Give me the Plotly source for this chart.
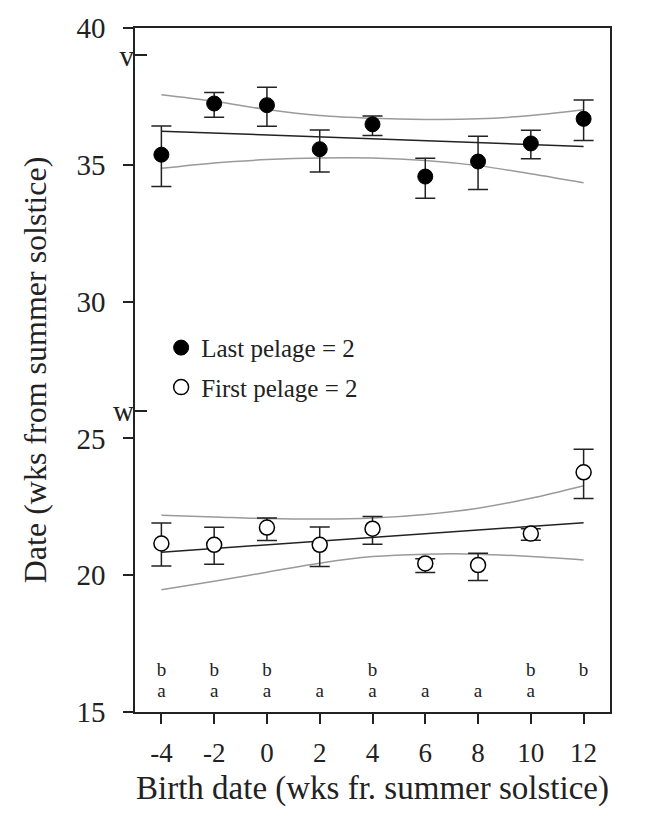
import plotly.graph_objects as go

# ---- data ----
birth_wk = [-4, -2, 0, 2, 4, 6, 8, 10, 12]

last_mean = [35.37, 37.24, 37.18, 35.57, 36.48, 34.57, 35.12, 35.78, 36.68]
last_hi   = [36.42, 37.64, 37.83, 36.27, 36.78, 35.24, 36.04, 36.26, 37.37]
last_lo   = [34.21, 36.74, 36.41, 34.74, 36.07, 33.78, 34.10, 35.22, 35.89]

first_mean = [21.16, 21.11, 21.74, 21.11, 21.70, 20.43, 20.37, 21.52, 23.76]
first_hi   = [21.91, 21.75, 22.09, 21.76, 22.15, 20.60, 20.80, 21.70, 24.60]
first_lo   = [20.34, 20.40, 21.27, 20.32, 21.13, 20.10, 19.81, 21.28, 22.80]

fit_x = [-4, 12]
last_fit = [36.23, 35.67]
first_fit = [20.84, 21.92]

last_ci_up = [37.56, 37.32, 37.02, 36.80, 36.70, 36.66, 36.68, 36.80, 37.01]
last_ci_dn = [34.87, 35.07, 35.19, 35.25, 35.25, 35.16, 34.97, 34.67, 34.34]
first_ci_up = [22.19, 22.13, 22.07, 22.05, 22.09, 22.22, 22.45, 22.81, 23.27]
first_ci_dn = [19.47, 19.78, 20.11, 20.44, 20.68, 20.77, 20.77, 20.68, 20.56]

letters_b = ['b', 'b', 'b', '', 'b', '', '', 'b', 'b']
letters_a = ['a', 'a', 'a', 'a', 'a', 'a', 'a', 'a', '']

y_ticks = [15, 20, 25, 30, 35, 40]
x_ticks = [-4, -2, 0, 2, 4, 6, 8, 10, 12]
mark_vals = [39, 26]
mark_text = ['v', 'w']

FONT = "Liberation Serif"
INK = "#222222"
BAND = "#9a9a9a"

fig = go.Figure()

for up, dn in [(last_ci_up, last_ci_dn), (first_ci_up, first_ci_dn)]:
    for band in (up, dn):
        fig.add_trace(go.Scatter(x=birth_wk, y=band, mode="lines",
                                 line=dict(color=BAND, width=1.5, shape="spline"),
                                 showlegend=False, hoverinfo="skip"))

for fy in (last_fit, first_fit):
    fig.add_trace(go.Scatter(x=fit_x, y=fy, mode="lines",
                             line=dict(color=INK, width=1.5),
                             showlegend=False, hoverinfo="skip"))

def err(mean, hi, lo):
    return dict(type="data", symmetric=False,
                array=[h - m for h, m in zip(hi, mean)],
                arrayminus=[m - l for m, l in zip(mean, lo)],
                color=INK, thickness=1.5, width=10)

fig.add_trace(go.Scatter(x=birth_wk, y=last_mean, mode="markers",
                         name="Last pelage = 2", legendgroup="a",
                         marker=dict(size=15, color="black", line=dict(color="black", width=1)),
                         error_y=err(last_mean, last_hi, last_lo)))
fig.add_trace(go.Scatter(x=birth_wk, y=first_mean, mode="markers",
                         name="First pelage = 2", legendgroup="b",
                         marker=dict(size=15, color="white", line=dict(color="black", width=1.5)),
                         error_y=err(first_mean, first_hi, first_lo)))

fig.add_trace(go.Scatter(x=birth_wk, y=[16.48] * len(birth_wk), mode="text", text=letters_b,
                         textfont=dict(family=FONT, size=19, color=INK),
                         showlegend=False, hoverinfo="skip"))
fig.add_trace(go.Scatter(x=birth_wk, y=[15.74] * len(birth_wk), mode="text", text=letters_a,
                         textfont=dict(family=FONT, size=19, color=INK),
                         showlegend=False, hoverinfo="skip"))

fig.update_layout(
    width=657, height=828,
    margin=dict(l=135, r=47, t=21, b=116),
    paper_bgcolor="white", plot_bgcolor="white",
    font=dict(family=FONT, color=INK),
    legend=dict(x=0.055, y=0.566, xanchor="left", yanchor="top",
                font=dict(family=FONT, size=25, color=INK),
                bgcolor="rgba(0,0,0,0)", tracegroupgap=4, traceorder="grouped"),
    xaxis=dict(range=[-5, 13], tickvals=x_ticks, ticktext=[str(v) for v in x_ticks],
               showline=True, linecolor=INK, linewidth=1.5, mirror=True,
               ticks="outside", ticklen=10, tickwidth=1.5, tickcolor=INK,
               showgrid=False, zeroline=False, ticklabelstandoff=6,
               tickfont=dict(family=FONT, size=27, color=INK)),
    yaxis=dict(range=[15, 40], tickvals=y_ticks,
               showline=True, linecolor=INK, linewidth=1.5, mirror=True,
               ticks="outside", ticklen=10, tickwidth=1.5, tickcolor=INK,
               showgrid=False, zeroline=False, ticklabelstandoff=12,
               tickfont=dict(family=FONT, size=29, color=INK),
               title=dict(text="Date (wks from summer solstice)",
                          font=dict(family=FONT, size=32, color=INK), standoff=20)),
    yaxis2=dict(range=[15, 40], overlaying="y", side="left", anchor="x",
                tickvals=mark_vals, ticktext=mark_text,
                ticks="inside", ticklen=12, tickwidth=1.5, tickcolor=INK,
                showline=False, showgrid=False, zeroline=False,
                tickfont=dict(family=FONT, size=29, color=INK)),
    annotations=[dict(text="Birth date (wks fr. summer solstice)", xref="paper", yref="paper",
                      x=0.5, y=-0.112, xanchor="center", yanchor="middle", showarrow=False,
                      font=dict(family=FONT, size=33, color=INK))],
)

# invisible trace to activate yaxis2
fig.add_trace(go.Scatter(x=[None], y=[None], yaxis="y2", showlegend=False, hoverinfo="skip"))

fig.write_html("out.html")
